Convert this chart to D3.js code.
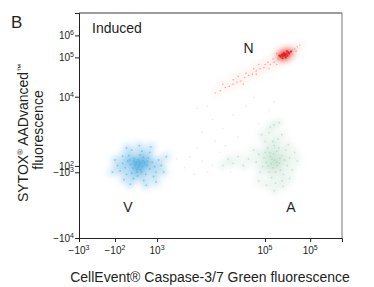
<html>
<head>
<meta charset="utf-8">
<script src="https://cdnjs.cloudflare.com/ajax/libs/d3/7.8.5/d3.min.js"></script>
<style>
body { margin: 0; background: #fff; }
text { font-family: "Liberation Sans", Arial, sans-serif; fill: #231f20; }
</style>
</head>
<body>
<svg id="canvas" width="374" height="287"></svg>
<script>

// display channels (0-1024) on both axes, biexponential style
var xMajor = [0, 140, 304, 724, 900];
var xMajorLabels = ['−10^3', '−10^2', '10^3', '10^5', '10^5'];
var xMinor = [16, 27, 43, 55, 70, 82, 97, 109, 125, 156, 167, 183, 195, 210, 222, 238, 249, 265, 276, 292,
              444, 549, 639, 658, 681, 701, 713, 787, 829, 857, 872, 888, 989, 1009];

var yMajor = [922, 822, 643, 328, 299, 0];
var yMajorLabels = ['10^6', '10^5', '10^4', '10^2', '−10^3', '−10^4'];
var yMinor = [1015, 1006, 997, 988, 978, 969, 960, 951, 942, 933, 910, 901, 892, 883, 874, 865, 856, 846, 837,
              796, 774, 751, 728, 696, 669, 573, 537, 514, 478, 437, 400, 369, 355, 341, 314,
              241, 209, 173, 141, 96, 64, 36, 14];

// viable (blue)
var viable = [[234,332],[220,340],[248,325],[210,318],[255,345],[230,355],[240,310],[200,335],[265,330],[225,300],
  [215,362],[250,368],[190,350],[275,315],[205,295],[260,290],[180,320],[285,345],[238,378],[195,375],
  [270,365],[228,282],[212,270],[252,262],[170,340],[295,325],[160,305],[300,300],[185,290],[245,395],
  [205,400],[275,390],[150,330],[310,355],[222,345],[242,338],[232,320],[218,328],[250,352],[236,345],
  [214,350],[258,338],[226,312],[244,300],[198,355],[266,350],[170,372],[290,280],[140,355],[320,330],
  [175,265],[235,420],[262,240],[200,245],[330,300],[130,300],[340,370],[185,410],[280,415],[300,255]];

// apoptotic (green)
var apoptotic = [[762,355],[745,370],[780,340],[730,345],[790,375],[755,320],[770,395],[720,365],[800,355],[740,300],
  [785,310],[760,420],[735,410],[805,400],[715,325],[795,290],[750,275],[775,450],[725,440],[810,330],
  [700,380],[820,365],[765,250],[740,480],[790,470],[705,300],[815,425],[690,345],[830,310],[760,515],
  [730,240],[795,235],[680,400],[840,390],[770,345],[752,360],[748,338],[772,330],[758,382],[742,388],
  [783,362],[738,328],[765,300],[778,410],[725,390],[755,440],[790,260],[700,260],[820,270],[660,360],
  [850,350],[745,505],[780,525],[710,470],[760,215],[640,330],[620,370],[600,340],[580,360],[560,330]];

// necrotic (red): dense core, then the sparse tail
var necroticCore = [[801,833],[795,828],[808,838],[790,835],[812,830],[798,842],[785,825],[818,840],[805,822],[780,830],
  [825,848],[792,818],[810,850],[803,830],[815,845],[800,838],[788,830],[796,836]];
var necroticTail = [[760,800],[745,790],[735,800],[720,775],[705,770],[690,760],[675,745],[660,740],[645,730],[630,715],
  [615,710],[600,700],[585,690],[570,685],[550,670],[530,660],[700,790],[680,770],[650,750],
  [620,735],[740,770],[770,790],[840,860],[850,870],[860,878],[845,850],[770,840],[755,815],[725,790],
  [690,745],[640,700],[560,700],[600,720],[775,815],[830,855]];

// faint events between populations
var debris = [[480,350],[520,330],[430,370],[550,390],[500,300],[460,410],[410,320],[590,300],[530,440],[380,360],
  [450,290],[570,420],[600,560],[650,600],[700,520],[560,500],[740,580],[620,460],[520,540],[680,640],
  [760,620],[480,480],[500,600],[460,590]];

var populations = [
  {pts: viable, color: '#4aaae0', glow: 0.38, dot: 0.55, r: 0.9},
  {pts: apoptotic, color: '#94c9ad', glow: 0.24, dot: 0.45, r: 0.9},
  {pts: necroticCore, color: '#e0201a', glow: 0.3, dot: 0.9, r: 1.1},
  {pts: necroticTail, color: '#e8453c', glow: 0.05, dot: 0.5, r: 0.7},
  {pts: debris, color: '#c3d6e0', glow: 0.0, dot: 0.6, r: 0.7}
];

var svg = d3.select('#canvas');
var plotL = 79, plotR = 342, plotT = 13, plotB = 238;

var x = d3.scaleLinear().domain([0, 1024]).range([plotL, plotR]);
var y = d3.scaleLinear().domain([0, 1024]).range([plotB, plotT]);

var defs = svg.append('defs');
defs.append('filter').attr('id', 'soft')
  .attr('x', '-50%').attr('y', '-50%').attr('width', '200%').attr('height', '200%')
  .append('feGaussianBlur').attr('stdDeviation', 3);

// frame top + right
svg.append('line').attr('x1', plotL).attr('x2', plotR).attr('y1', plotT).attr('y2', plotT)
  .attr('stroke', '#3a3a3a').attr('stroke-width', 1);
svg.append('line').attr('x1', plotR).attr('x2', plotR).attr('y1', plotT).attr('y2', plotB)
  .attr('stroke', '#8a8a8a').attr('stroke-width', 1.2);

// clouds
var glow = svg.append('g').attr('filter', 'url(#soft)');
var dots = svg.append('g');
populations.forEach(function(p) {
  glow.selectAll(null).data(p.pts).enter().append('circle')
    .attr('cx', function(d) { return x(d[0]); })
    .attr('cy', function(d) { return y(d[1]); })
    .attr('r', 3.5)
    .attr('fill', p.color)
    .attr('fill-opacity', p.glow);
  dots.selectAll(null).data(p.pts).enter().append('circle')
    .attr('cx', function(d) { return x(d[0]); })
    .attr('cy', function(d) { return y(d[1]); })
    .attr('r', p.r)
    .attr('fill', p.color)
    .attr('fill-opacity', p.dot);
});

function supLabel(sel, labels) {
  sel.each(function(d, i) {
    var t = d3.select(this).text('');
    var parts = labels[i].split('^');
    t.append('tspan').text(parts[0]);
    t.append('tspan').attr('font-size', '7px').attr('dy', '-4').text(parts[1]);
  });
}

// x axis
var gx = svg.append('g').attr('transform', 'translate(0,' + plotB + ')');
gx.call(d3.axisBottom(x).tickValues(xMinor).tickSize(2.5).tickFormat(''));
gx.call(d3.axisBottom(x).tickValues(xMajor).tickSize(4).tickFormat(''));
gx.selectAll('path').attr('stroke', '#231f20');
gx.selectAll('line').attr('stroke', '#231f20');
gx.selectAll(null).data(xMajor).enter().append('text')
  .attr('x', function(d) { return x(d); })
  .attr('y', 16)
  .attr('text-anchor', 'middle')
  .attr('font-size', '10px')
  .call(supLabel, xMajorLabels);

// y axis
var gy = svg.append('g').attr('transform', 'translate(' + plotL + ',0)');
gy.call(d3.axisLeft(y).tickValues(yMinor).tickSize(2.5).tickFormat(''));
gy.call(d3.axisLeft(y).tickValues(yMajor).tickSize(4).tickFormat(''));
gy.selectAll('path').attr('stroke', '#231f20');
gy.selectAll('line').attr('stroke', '#231f20');
gy.selectAll(null).data(yMajor).enter().append('text')
  .attr('x', -5)
  .attr('y', function(d) { return y(d) + 4; })
  .attr('text-anchor', 'end')
  .attr('font-size', '10px')
  .call(supLabel, yMajorLabels);

// texts
svg.append('text').attr('x', 11).attr('y', 28).attr('font-size', '17px').text('B');
svg.append('text').attr('x', 92).attr('y', 33).attr('font-size', '14px').text('Induced');
svg.append('text').attr('x', x(660)).attr('y', y(840)).attr('font-size', '14px').attr('text-anchor', 'middle').text('N');
svg.append('text').attr('x', x(190)).attr('y', y(118)).attr('font-size', '14px').attr('text-anchor', 'middle').text('V');
svg.append('text').attr('x', x(825)).attr('y', y(118)).attr('font-size', '14px').attr('text-anchor', 'middle').text('A');

svg.append('text').attr('x', 210).attr('y', 282).attr('font-size', '14px').attr('text-anchor', 'middle')
  .text('CellEvent® Caspase-3/7 Green fluorescence');

var yl = svg.append('text').attr('transform', 'translate(28,133) rotate(-90)')
  .attr('font-size', '14px').attr('text-anchor', 'middle');
yl.append('tspan').text('SYTOX');
yl.append('tspan').attr('font-size', '8px').attr('dy', -5).text('®');
yl.append('tspan').attr('dy', 5).text(' AADvanced');
yl.append('tspan').attr('font-size', '8px').attr('dy', -5).text('™');
svg.append('text').attr('transform', 'translate(43,130) rotate(-90)')
  .attr('font-size', '14px').attr('text-anchor', 'middle').text('fluorescence');

</script>
</body>
</html>
